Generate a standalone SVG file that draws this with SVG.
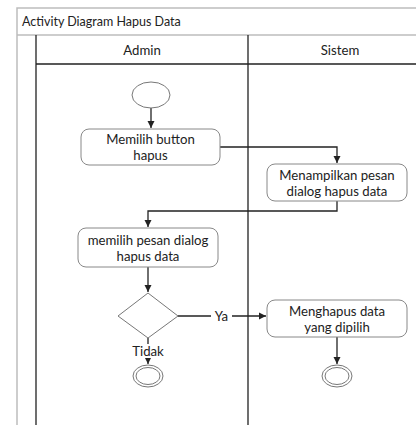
<svg xmlns="http://www.w3.org/2000/svg" width="416" height="425" viewBox="0 0 416 425">
<defs>
<style>
text{font-family:Lato,"Open Sans","Liberation Sans",sans-serif;font-size:13.2px;fill:#222;text-anchor:middle}
.title{font-size:12.5px;text-anchor:start}
.frame{stroke:#bdbdbd;stroke-width:1.5;fill:none}
.lane{stroke:#222;stroke-width:1.3;fill:none}
.act{fill:#fff;stroke:#888;stroke-width:1}
.conn{stroke:#222;stroke-width:1.3;fill:none;marker-end:url(#ah)}
.node{fill:#fff;stroke:#777;stroke-width:1}
</style>
<marker id="ah" markerWidth="8" markerHeight="8" refX="7" refY="4" orient="auto" markerUnits="userSpaceOnUse">
<path d="M0,0.5 L7,4 L0,7.5 z" fill="#222"/>
</marker>
</defs>
<rect x="0" y="0" width="416" height="425" fill="#fff"/>
<g id="frame">
<path class="frame" d="M17,425 V8 H416 M17,35 H416"/>
<text class="title" x="22" y="26">Activity Diagram Hapus Data</text>
</g>
<g id="lanes">
<path class="lane" d="M36,425 V35 M248,35 V425 M36,64 H416"/>
<text x="142" y="55">Admin</text>
<text x="340" y="55">Sistem</text>
</g>
<g id="connectors">
<path class="conn" d="M151,108 V128"/>
<path class="conn" d="M220,147 H337 V163"/>
<path class="conn" d="M337,201 V211 H148 V227"/>
<path class="conn" d="M148,267 V292"/>
<path class="conn" d="M178,316 H266"/>
<path class="conn" d="M148,338 V364"/>
<path class="conn" d="M337,337 V364"/>
<rect x="211" y="309" width="21" height="14" fill="#fff"/>
<text x="221.5" y="321">Ya</text>
<rect x="131" y="344" width="34" height="14" fill="#fff"/>
<text x="148" y="356">Tidak</text>
</g>
<g id="start">
<ellipse class="node" cx="151" cy="95" rx="19" ry="13"/>
</g>
<g id="a1">
<rect class="act" x="81" y="129" width="139" height="36" rx="8"/>
<text x="150.5" y="144">Memilih button</text>
<text x="150.5" y="160">hapus</text>
</g>
<g id="a2">
<rect class="act" x="267" y="164" width="140" height="37" rx="8"/>
<text x="337" y="180">Menampilkan pesan</text>
<text x="337" y="196">dialog hapus data</text>
</g>
<g id="a3">
<rect class="act" x="78" y="228" width="140" height="39" rx="8"/>
<text x="148" y="245">memilih pesan dialog</text>
<text x="148" y="261">hapus data</text>
</g>
<g id="decision">
<path class="node" d="M148,293 L178,316 L148,338 L118,316 Z"/>
</g>
<g id="a4">
<rect class="act" x="267" y="300" width="140" height="37" rx="8"/>
<text x="337" y="316">Menghapus data</text>
<text x="337" y="332">yang dipilih</text>
</g>
<g id="end1">
<ellipse class="node" cx="148" cy="376" rx="15" ry="11"/>
<ellipse class="node" cx="148" cy="376" rx="12" ry="8.5"/>
</g>
<g id="end2">
<ellipse class="node" cx="337" cy="376" rx="15" ry="11"/>
<ellipse class="node" cx="337" cy="376" rx="12" ry="8.5"/>
</g>
</svg>
